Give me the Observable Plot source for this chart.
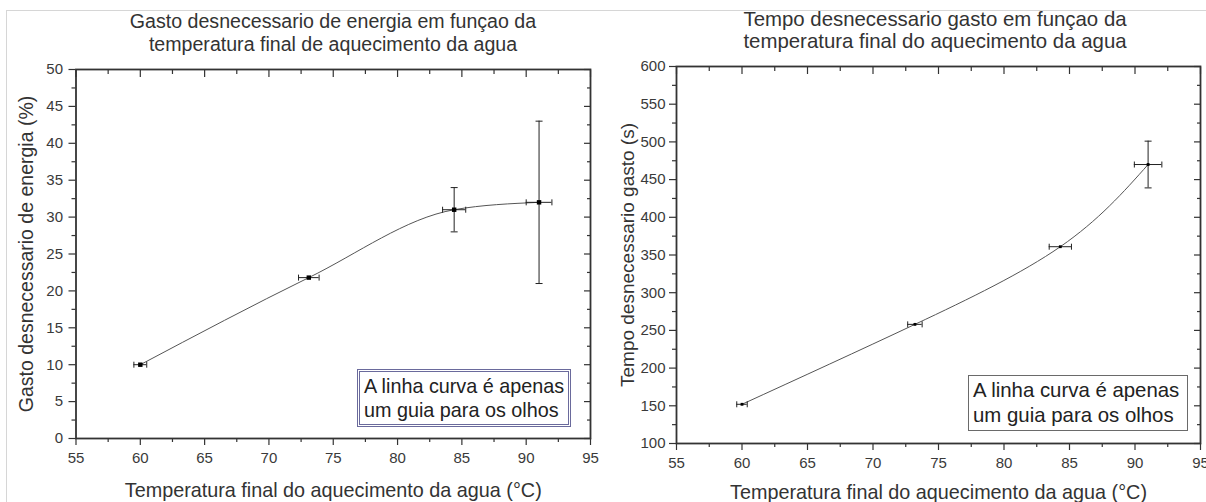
<!DOCTYPE html>
<html>
<head>
<meta charset="utf-8">
<script src="https://cdn.jsdelivr.net/npm/d3@7"></script>
<script src="https://cdn.jsdelivr.net/npm/@observablehq/plot@0.6"></script>
<style>
  body { margin: 0; background: #fff; }
  #wrap { position: relative; width: 1206px; height: 502px; overflow: hidden; background: #fff;
          font-family: "Liberation Sans", Arial, sans-serif; color: #333; }
  #border { position: absolute; left: 6px; top: 10px; width: 1300px; height: 600px;
            border-top: 1px solid #d6d6d6; border-left: 1px solid #d6d6d6; }
  .panel { position: absolute; top: 0; }
  .title { position: absolute; text-align: center; white-space: nowrap; color: #333; transform: translateX(-50%); }
  .note { position: absolute; box-sizing: border-box; white-space: nowrap; color: #222; }
</style>
</head>
<body>
<div id="wrap">
  <div id="border"></div>
</div>
<script>
// ---- data ----
const tituloEnergia = ["Gasto desnecessario de energia em funçao da", "temperatura final de aquecimento da agua"];
const tituloTempo = ["Tempo desnecessario gasto em funçao da", "temperatura final do aquecimento da agua"];
const rotuloX = "Temperatura final do aquecimento da agua (°C)";
const rotuloEnergia = "Gasto desnecessario de energia (%)";
const rotuloTempo = "Tempo desnecessario gasto (s)";
const nota = ["A linha curva é apenas", "um guia para os olhos"];

const temperaturaEnergia = [60, 73.1, 84.4, 91.0];
const erroTempEnergia = [0.5, 0.8, 0.9, 1.0];
const gastoEnergia = [10, 21.8, 31, 32];
const erroGasto = [0, 0, 3, 11];

const temperaturaTempo = [60, 73.2, 84.3, 91.0];
const erroTempTempo = [0.4, 0.55, 0.85, 1.05];
const tempoGasto = [152, 258, 361, 470];
const erroTempo = [0, 0, 0, 31];

const xDominio = [55, 95];
const xMaiores = [55, 60, 65, 70, 75, 80, 85, 90, 95];
const xMenores = [57.5, 62.5, 67.5, 72.5, 77.5, 82.5, 87.5, 92.5];
const yDominioEnergia = [0, 50];
const yMaioresEnergia = [0, 5, 10, 15, 20, 25, 30, 35, 40, 45, 50];
const yMenoresEnergia = [2.5, 7.5, 12.5, 17.5, 22.5, 27.5, 32.5, 37.5, 42.5, 47.5];
const yDominioTempo = [100, 600];
const yMaioresTempo = [100, 150, 200, 250, 300, 350, 400, 450, 500, 550, 600];
const yMenoresTempo = [125, 175, 225, 275, 325, 375, 425, 475, 525, 575];

// ---- helpers ----
const capH = { draw(ctx, size) { const r = Math.sqrt(size / Math.PI); ctx.moveTo(-r, 0); ctx.lineTo(r, 0); } };
const capV = { draw(ctx, size) { const r = Math.sqrt(size / Math.PI); ctx.moveTo(0, -r); ctx.lineTo(0, r); } };
const none = () => "";
const AX = "#333";

function painel(cfg) {
  const rows = cfg.x.map((x, i) => ({x, y: cfg.y[i], ex: cfg.ex[i], ey: cfg.ey[i]}));
  const rowsEy = rows.filter(d => d.ey > 0);
  const fs = 15;
  return Plot.plot({
    width: cfg.width, height: 502,
    marginLeft: cfg.mL, marginRight: cfg.mR, marginTop: cfg.mT, marginBottom: cfg.mB,
    x: {domain: xDominio},
    y: {domain: cfg.yDomain},
    style: {fontFamily: '"Liberation Sans", Arial, sans-serif', fontSize: fs + "px", color: "#3a3a3a", background: "transparent", overflow: "visible"},
    marks: [
      // bottom / left: outward ticks with labels
      Plot.axisX(xMaiores, {anchor: "bottom", tickSize: 7, tickPadding: 7, label: null, stroke: AX, strokeWidth: 1.2, fontSize: fs, tickFormat: d => String(d)}),
      Plot.axisX(xMenores, {anchor: "bottom", tickSize: 4, label: null, stroke: AX, strokeWidth: 1.2, tickFormat: none}),
      Plot.axisY(cfg.yMajor, {anchor: "left", tickSize: 7, tickPadding: cfg.padY, label: null, stroke: AX, strokeWidth: 1.2, fontSize: fs, tickFormat: d => String(d)}),
      Plot.axisY(cfg.yMinor, {anchor: "left", tickSize: 4, label: null, stroke: AX, strokeWidth: 1.2, tickFormat: none}),
      // top / right: inward ticks
      Plot.axisX(xMaiores, {anchor: "top", tickSize: -7, label: null, stroke: AX, strokeWidth: 1.2, tickFormat: none}),
      Plot.axisX(xMenores, {anchor: "top", tickSize: -4, label: null, stroke: AX, strokeWidth: 1.2, tickFormat: none}),
      Plot.axisY(cfg.yMajor, {anchor: "right", tickSize: -7, label: null, stroke: AX, strokeWidth: 1.2, tickFormat: none}),
      Plot.axisY(cfg.yMinor, {anchor: "right", tickSize: -4, label: null, stroke: AX, strokeWidth: 1.2, tickFormat: none}),
      Plot.frame({stroke: AX, strokeWidth: 1.8}),
      // guide curve
      Plot.line(rows, {x: "x", y: "y", curve: cfg.curve, stroke: "#555", strokeWidth: 1}),
      // error bars
      Plot.ruleY(rows, {y: "y", x1: d => d.x - d.ex, x2: d => d.x + d.ex, stroke: "#222", strokeWidth: 1}),
      Plot.dot(rows, {x: d => d.x - d.ex, y: "y", symbol: capV, r: 3, stroke: "#222", strokeWidth: 1, fill: "none"}),
      Plot.dot(rows, {x: d => d.x + d.ex, y: "y", symbol: capV, r: 3, stroke: "#222", strokeWidth: 1, fill: "none"}),
      Plot.ruleX(rowsEy, {x: "x", y1: d => d.y - d.ey, y2: d => d.y + d.ey, stroke: "#222", strokeWidth: 1}),
      Plot.dot(rowsEy, {x: "x", y: d => d.y - d.ey, symbol: capH, r: 3.5, stroke: "#222", strokeWidth: 1, fill: "none"}),
      Plot.dot(rowsEy, {x: "x", y: d => d.y + d.ey, symbol: capH, r: 3.5, stroke: "#222", strokeWidth: 1, fill: "none"}),
      Plot.dot(rows, {x: "x", y: "y", symbol: "square", r: cfg.markR, fill: "#000", stroke: "none"}),
      // axis titles
      Plot.text([cfg.yLabel], {text: d => d, frameAnchor: "left", textAnchor: "middle", lineAnchor: "middle", dx: cfg.yLabelDx, rotate: -90, fontSize: cfg.yLabelFs, fill: "#333"}),
      Plot.text([rotuloX], {text: d => d, frameAnchor: "bottom", textAnchor: "middle", lineAnchor: "middle", dy: cfg.xLabelDy, fontSize: 19.8, fill: "#333"})
    ]
  });
}

const wrap = document.getElementById("wrap");

function addPanel(svg, left) {
  const d = document.createElement("div");
  d.className = "panel";
  d.style.left = left + "px";
  d.appendChild(svg);
  wrap.appendChild(d);
}

addPanel(painel({
  x: temperaturaEnergia, y: gastoEnergia, ex: erroTempEnergia, ey: erroGasto,
  yDomain: yDominioEnergia, yMajor: yMaioresEnergia, yMinor: yMenoresEnergia,
  width: 600, mL: 75.5, mR: 10, mT: 69, mB: 64, padY: 6, markR: 2.5, curve: "monotone-x",
  yLabel: rotuloEnergia, yLabelDx: -49, yLabelFs: 19.5, xLabelDy: 52
}), 0);

addPanel(painel({
  x: temperaturaTempo, y: tempoGasto, ex: erroTempTempo, ey: erroTempo,
  yDomain: yDominioTempo, yMajor: yMaioresTempo, yMinor: yMenoresTempo,
  width: 606, mL: 76, mR: 6, mT: 66, mB: 59, padY: 4, markR: 1.6, curve: "natural",
  yLabel: rotuloTempo, yLabelDx: -49, yLabelFs: 19, xLabelDy: 49
}), 600);

function addTitle(lines, cx, top, fs, lh) {
  const d = document.createElement("div");
  d.className = "title";
  d.style.left = cx + "px";
  d.style.top = top + "px";
  d.style.fontSize = fs + "px";
  d.style.lineHeight = lh + "px";
  d.innerHTML = lines.map(s => `<div>${s}</div>`).join("");
  wrap.appendChild(d);
}
addTitle(tituloEnergia, 333, 10, 19.6, 23);
addTitle(tituloTempo, 935, 8, 20.4, 22);

function addNote(lines, box, border, fs, lh, pad) {
  const d = document.createElement("div");
  d.className = "note";
  Object.assign(d.style, {left: box[0] + "px", top: box[1] + "px", width: box[2] + "px", height: box[3] + "px",
    border, fontSize: fs + "px", lineHeight: lh + "px", padding: pad});
  d.innerHTML = lines.map(s => `<div>${s}</div>`).join("");
  wrap.appendChild(d);
}
addNote(nota, [357, 369, 214, 58], "3px double #6a6a9c", 19.8, 24, "2px 0 0 4px");
addNote(nota, [968, 375, 220, 56], "1px solid #6a6a6a", 20.4, 25, "2px 0 0 4px");
</script>
</body>
</html>
